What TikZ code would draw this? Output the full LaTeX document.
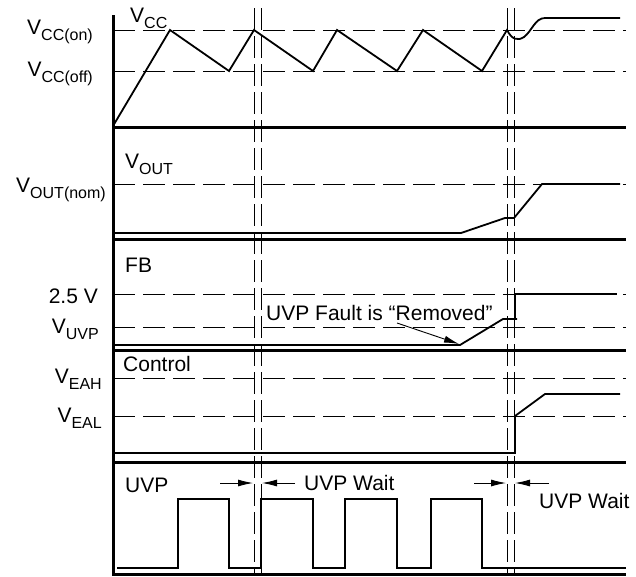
\documentclass[tikz,border=0pt]{standalone}
\usepackage{fontspec}
\setmainfont{Liberation Sans}
\usetikzlibrary{arrows.meta,positioning}
\newcommand{\subtxt}[1]{\raisebox{-6pt}{\fontsize{16}{18}\selectfont #1}}

\begin{document}
\begin{tikzpicture}[x=1pt, y=-1pt,
  axis/.style={line width=3pt},
  sig/.style={line width=1.8pt, line join=miter},
  lvl/.style={line width=0.9pt, dash pattern=on 22pt off 8pt},
  cut/.style={line width=0.9pt, dash pattern=on 22pt off 6pt},
  lbl/.style={font=\fontsize{21}{25}\selectfont, inner sep=0pt},
  warr/.style={-{Latex[length=15pt,width=7pt]}, line width=0.9pt}
]
\useasboundingbox (0,0) rectangle (636,576);

\node[lbl, anchor=base west] (vcc)    at (130,22)  {V\subtxt{CC}};
\node[lbl, anchor=base east] (vccon)  at (93,34)   {V\subtxt{CC(on)}};
\node[lbl, anchor=base east] (vccoff) at (93,76)   {V\subtxt{CC(off)}};
\node[lbl, anchor=base west] (vout)   at (125,168) {V\subtxt{OUT}};
\node[lbl, anchor=base east] (vnom)   at (106,192) {V\subtxt{OUT(nom)}};
\node[lbl, anchor=base west] (fb)     at (125,272) {FB};
\node[lbl, anchor=base east] (vref)   at (98,303)  {2.5 V};
\node[lbl, anchor=base east] (vuvp)   at (99,333)  {V\subtxt{UVP}};
\node[lbl, anchor=base west] (ctrl)   at (123,371) {Control};
\node[lbl, anchor=base east] (veah)   at (102,383) {V\subtxt{EAH}};
\node[lbl, anchor=base east] (veal)   at (102,422) {V\subtxt{EAL}};
\node[lbl, anchor=base west] (uvp)    at (125,492) {UVP};
\node[lbl, anchor=base west] (waita)  at (304,490) {UVP Wait};
\node[lbl, anchor=base west] (waitb)  at (539,508) {UVP Wait};
\node[lbl, anchor=base west] (fault)  at (266,320) {UVP Fault is ``Removed''};

\coordinate (rmvtail) at (397,323);
\coordinate (rmvtip)  at (459,344);
\coordinate (wa1) at (220,483); \coordinate (wa1t) at (253,483);
\coordinate (wa2) at (295,483); \coordinate (wa2t) at (262,483);
\coordinate (wb1) at (474,483); \coordinate (wb1t) at (506,483);
\coordinate (wb2) at (549,483); \coordinate (wb2t) at (515,483);

\foreach \y in {30,71,184,294,327,378,416}
  \draw[lvl] (113,\y) -- (626,\y);
\foreach \x in {254,261,507,514}
  \draw[cut] (\x,8) -- (\x,576);

\draw[axis] (113,15) -- (113,576);
\foreach \y in {127,239,350,462,574}
  \draw[axis] (113,\y) -- (626,\y);

\draw[sig] (113,126) -- (170,30) -- (229,71) -- (254,30) -- (313,71)
  -- (337,30) -- (397,71) -- (423,30) -- (482,71) -- (507,30)
  .. controls (512,40) and (518,41) .. (524,37)
  .. controls (532,31) and (535,18) .. (545,18) -- (620,18);
\draw[sig] (115,233) -- (461,233) -- (505,218) -- (514,218)
  -- (542,184) -- (620,184);
\draw[sig] (115,345) -- (460,345) -- (503,319) -- (517,319);
\draw[sig] (515,319) -- (515,294) -- (617,294);
\draw[sig] (115,453) -- (515,453) -- (515,416) -- (545,394) -- (620,394);
\draw[sig] (117,568) -- (178,568) -- (178,499) -- (229,499) -- (229,568)
  -- (261,568) -- (261,499) -- (313,499) -- (313,568)
  -- (345,568) -- (345,499) -- (397,499) -- (397,568)
  -- (431,568) -- (431,499) -- (482,499) -- (482,568) -- (626,568);

\draw[warr] (rmvtail) -- (rmvtip);
\draw[warr] (wa1) -- (wa1t);
\draw[warr] (wa2) -- (wa2t);
\draw[warr] (wb1) -- (wb1t);
\draw[warr] (wb2) -- (wb2t);
\end{tikzpicture}
\end{document}
